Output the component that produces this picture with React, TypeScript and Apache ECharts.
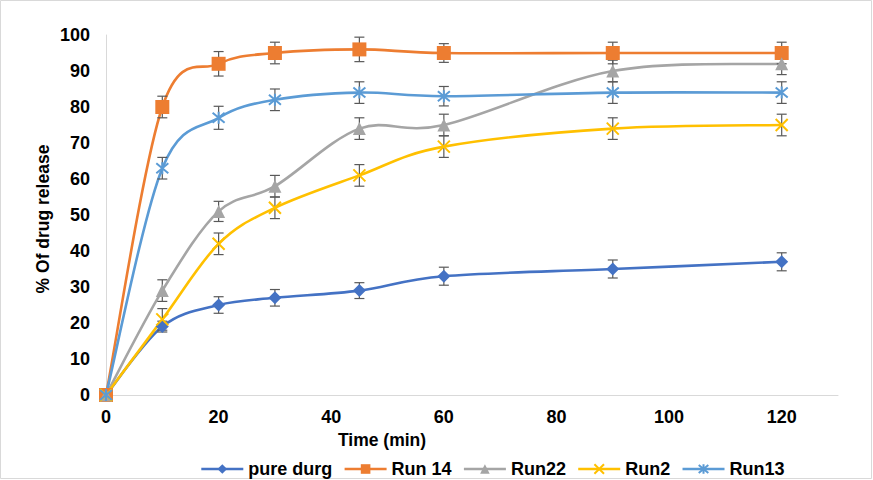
import React, { useEffect, useRef } from "react";
import * as echarts from "echarts";

const times = [0, 10, 20, 30, 45, 60, 90, 120];
const pureDurg = [0, 19, 25, 27, 29, 33, 35, 37];
const run14 = [0, 80, 92, 95, 96, 95, 95, 95];
const run22 = [0, 29, 51, 58, 74, 75, 90, 92];
const run2 = [0, 21, 42, 52, 61, 69, 74, 75];
const run13 = [0, 63, 77, 82, 84, 83, 84, 84];

const errPure = [0, 1.5, 2.3, 2.3, 2.2, 2.5, 2.5, 2.5];
const errRun14 = [0, 3, 3.4, 3, 3.4, 2.6, 3, 3];
const errRun22 = [0, 3, 2.8, 3, 3, 3, 3, 3];
const errRun2 = [0, 3, 3, 3, 3, 3, 3, 3];
const errRun13 = [0, 3, 3.2, 3, 3, 2.7, 3, 3];

const xTicks = { min: 0, max: 130, interval: 20 };
const yTicks = { min: 0, max: 100, interval: 10 };

const FONT = '"Liberation Sans", Arial, sans-serif';
const FS = 18;

const X_PATH = "path://M0,0L10,10M10,0L0,10";
const STAR_PATH = "path://M0,0L10,10M10,0L0,10M5,-1L5,11";

function catmullPath(pts: number[][]): string {
  let d = `M${pts[0][0]},${pts[0][1]}`;
  for (let i = 0; i < pts.length - 1; i++) {
    const p0 = pts[i - 1] || pts[i];
    const p1 = pts[i];
    const p2 = pts[i + 1];
    const p3 = pts[i + 2] || pts[i + 1];
    const c1x = p1[0] + (p2[0] - p0[0]) / 6;
    const c1y = p1[1] + (p2[1] - p0[1]) / 6;
    const c2x = p2[0] - (p3[0] - p1[0]) / 6;
    const c2y = p2[1] - (p3[1] - p1[1]) / 6;
    d += ` C${c1x},${c1y} ${c2x},${c2y} ${p2[0]},${p2[1]}`;
  }
  return d;
}

export default function App() {
  const ref = useRef<HTMLDivElement>(null);

  useEffect(() => {
    document.body.style.margin = "0";
    const chart = echarts.init(ref.current!, null, { renderer: "svg" });

    const seriesDefs = [
      { name: "pure durg", vals: pureDurg, err: errPure, color: "#4472C4", symbol: "diamond", size: 13, stroke: false },
      { name: "Run 14", vals: run14, err: errRun14, color: "#ED7D31", symbol: "rect", size: 14, stroke: false },
      { name: "Run22", vals: run22, err: errRun22, color: "#A5A5A5", symbol: "triangle", size: 13, stroke: false },
      { name: "Run2", vals: run2, err: errRun2, color: "#FFC000", symbol: X_PATH, size: 12, stroke: true },
      { name: "Run13", vals: run13, err: errRun13, color: "#5B9BD5", symbol: STAR_PATH, size: 12, stroke: true },
    ];

    const errData: number[][] = [];
    seriesDefs.forEach((s) => {
      s.vals.forEach((v, i) => {
        if (s.err[i] > 0) errData.push([times[i], v, s.err[i]]);
      });
    });

    const curveSeries = seriesDefs.map((s, k) => ({
      type: "custom",
      name: "curve" + k,
      z: 2,
      silent: true,
      clip: false,
      encode: { x: 0, y: 1 },
      data: s.vals.map((v, i) => [times[i], v]),
      renderItem: (params: any, api: any) => {
        if (params.dataIndex !== 0) return null;
        const pts = s.vals.map((v, i) => api.coord([times[i], v]));
        return {
          type: "path",
          shape: { pathData: catmullPath(pts) },
          style: { fill: "none", stroke: s.color, lineWidth: 2.6, lineJoin: "round", lineCap: "round" },
        };
      },
    }));

    const markerSeries = seriesDefs.map((s) => ({
      name: s.name,
      type: "line",
      data: s.vals.map((v, i) => [times[i], v]),
      symbol: s.symbol,
      symbolSize: s.size,
      showAllSymbol: true,
      z: 4,
      lineStyle: { color: s.color, width: 2.6, opacity: 0 },
      itemStyle: s.stroke
        ? { color: "rgba(0,0,0,0)", borderColor: s.color, borderWidth: 2 }
        : { color: s.color, borderWidth: 0 },
      emphasis: { disabled: true },
    }));

    const option: any = {
      animation: false,
      grid: { left: 106, right: 35, top: 35, bottom: 85, containLabel: false },
      xAxis: {
        type: "value",
        min: xTicks.min,
        max: xTicks.max,
        interval: xTicks.interval,
        splitLine: { show: false },
        axisTick: { show: false },
        axisLine: { show: true, lineStyle: { color: "#D9D9D9", width: 1 } },
        axisLabel: {
          showMaxLabel: false,
          margin: 13,
          color: "#000",
          fontFamily: FONT,
          fontWeight: "bold",
          fontSize: FS,
        },
      },
      yAxis: {
        type: "value",
        min: yTicks.min,
        max: yTicks.max,
        interval: yTicks.interval,
        splitLine: { show: false },
        axisTick: { show: false },
        axisLine: { show: true, lineStyle: { color: "#D9D9D9", width: 1 } },
        axisLabel: {
          margin: 16,
          color: "#000",
          fontFamily: FONT,
          fontWeight: "bold",
          fontSize: FS,
        },
      },
      legend: {
        data: seriesDefs.map((s) => ({
          name: s.name,
          lineStyle: { color: s.color, width: 2.6, opacity: 1 },
        })),
        left: 195,
        top: 455,
        itemWidth: 42,
        itemHeight: 12,
        itemGap: 11,
        textStyle: { color: "#000", fontFamily: FONT, fontWeight: "bold", fontSize: FS },
        selectedMode: false,
      },
      graphic: [
        {
          type: "rect",
          shape: { x: 0.5, y: 0.5, width: 871, height: 478 },
          style: { fill: "none", stroke: "#D9D9D9", lineWidth: 1 },
          silent: true,
        },
        {
          type: "text",
          x: 43,
          y: 219,
          rotation: Math.PI / 2,
          style: {
            text: "% Of drug release",
            textAlign: "center",
            textVerticalAlign: "middle",
            font: `bold 17.5px ${FONT}`,
            fill: "#000",
          },
        },
        {
          type: "text",
          x: 382,
          y: 440,
          style: {
            text: "Time (min)",
            textAlign: "center",
            textVerticalAlign: "middle",
            font: `bold 17.5px ${FONT}`,
            fill: "#000",
          },
        },
      ],
      series: [
        ...curveSeries,
        {
          type: "custom",
          name: "errors",
          z: 3,
          silent: true,
          encode: { x: 0, y: 1 },
          data: errData,
          renderItem: (params: any, api: any) => {
            const x = api.value(0);
            const y = api.value(1);
            const e = api.value(2);
            const top = api.coord([x, y + e]);
            const bot = api.coord([x, y - e]);
            const hw = 5;
            const style = { stroke: "#595959", lineWidth: 1.2 };
            return {
              type: "group",
              children: [
                { type: "line", shape: { x1: top[0], y1: top[1], x2: bot[0], y2: bot[1] }, style },
                { type: "line", shape: { x1: top[0] - hw, y1: top[1], x2: top[0] + hw, y2: top[1] }, style },
                { type: "line", shape: { x1: bot[0] - hw, y1: bot[1], x2: bot[0] + hw, y2: bot[1] }, style },
              ],
            };
          },
        },
        ...markerSeries,
      ],
    };

    chart.setOption(option);
    return () => chart.dispose();
  }, []);

  return <div ref={ref} style={{ width: 873, height: 480 }} />;
}
